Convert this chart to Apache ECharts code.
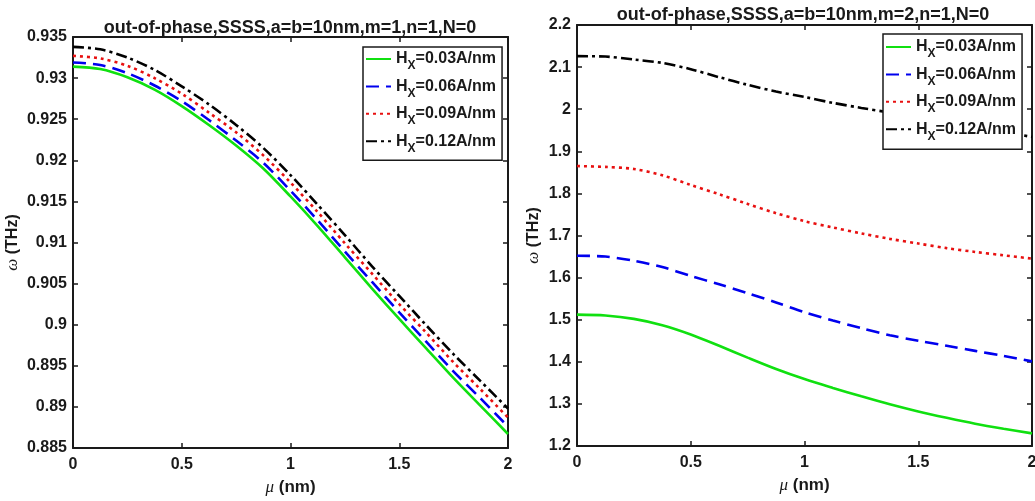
<!DOCTYPE html>
<html><head><meta charset="utf-8">
<script src="https://cdn.jsdelivr.net/npm/echarts@6/dist/echarts.min.js"></script>
<style>html,body{margin:0;padding:0;background:#fff}#c{width:1035px;height:501px}</style>
</head><body><div id="c"></div>
<script>
// ---- data ----
const mu = [0, 0.125, 0.25, 0.375, 0.5, 0.625, 0.75, 0.875, 1, 1.125, 1.25, 1.375, 1.5, 1.625, 1.75, 1.875, 2];
const hxNames = ['0.03', '0.06', '0.09', '0.12'];
const titleLeft = 'out-of-phase,SSSS,a=b=10nm,m=1,n=1,N=0';
const titleRight = 'out-of-phase,SSSS,a=b=10nm,m=2,n=1,N=0';
const xTicks = [0, 0.5, 1, 1.5, 2];
const yTicksLeft = [0.885, 0.89, 0.895, 0.9, 0.905, 0.91, 0.915, 0.92, 0.925, 0.93, 0.935];
const yTicksRight = [1.2, 1.3, 1.4, 1.5, 1.6, 1.7, 1.8, 1.9, 2, 2.1, 2.2];

// left panel (m=1)
const leftHx003 = [0.9314, 0.9311, 0.9301, 0.9286, 0.9266, 0.9243, 0.9218, 0.9190, 0.9156, 0.9120, 0.9082, 0.9044, 0.9007, 0.8971, 0.8935, 0.8901, 0.8867];
const leftHx006 = [0.9319, 0.9316, 0.9306, 0.9291, 0.9272, 0.9249, 0.9224, 0.9197, 0.9163, 0.9127, 0.9089, 0.9052, 0.9015, 0.8979, 0.8943, 0.8910, 0.8876];
const leftHx009 = [0.9327, 0.9324, 0.9315, 0.9300, 0.9281, 0.9258, 0.9234, 0.9206, 0.9173, 0.9137, 0.9099, 0.9062, 0.9025, 0.8990, 0.8954, 0.8921, 0.8887];
const leftHx012 = [0.9338, 0.9335, 0.9325, 0.9310, 0.9290, 0.9268, 0.9243, 0.9215, 0.9182, 0.9146, 0.9109, 0.9071, 0.9035, 0.8999, 0.8964, 0.8931, 0.8898];
// right panel (m=2)
const rightHx003 = [1.512, 1.510, 1.502, 1.487, 1.465, 1.438, 1.410, 1.383, 1.359, 1.338, 1.318, 1.299, 1.282, 1.267, 1.253, 1.241, 1.230];
const rightHx006 = [1.652, 1.650, 1.640, 1.625, 1.604, 1.584, 1.563, 1.541, 1.518, 1.498, 1.480, 1.463, 1.450, 1.438, 1.426, 1.414, 1.401];
const rightHx009 = [1.865, 1.863, 1.858, 1.843, 1.820, 1.798, 1.775, 1.753, 1.734, 1.719, 1.705, 1.692, 1.681, 1.670, 1.661, 1.653, 1.645];
const rightHx012 = [2.126, 2.125, 2.118, 2.110, 2.095, 2.076, 2.058, 2.042, 2.029, 2.015, 2.003, 1.992, 1.980, 1.969, 1.957, 1.946, 1.934];

// ---- styles ----
const FONT = '"Liberation Sans", Arial, sans-serif';
const INK = '#1a1a1a';
const styles = [
  {color: '#10e010', type: 'solid'},
  {color: '#0000ee', type: [13, 7]},
  {color: '#e81010', type: [3, 4]},
  {color: '#000000', type: [11, 4, 3, 4]}
];
const pair = arr => mu.map((m, i) => [m, arr[i]]);
const fmt = v => String(+(+v).toFixed(4));

function xAx(grid, pos, show) {
  return {
    type: 'value', gridIndex: grid, position: pos,
    min: xTicks[0], max: xTicks[xTicks.length - 1], interval: xTicks[1] - xTicks[0],
    axisLine: {show: true, onZero: false, lineStyle: {color: INK, width: 2}},
    axisTick: {show: true, inside: true, length: 5, lineStyle: {color: INK, width: 1.5}},
    axisLabel: {show: show, margin: 9, color: INK, fontFamily: FONT, fontWeight: 'bold', fontSize: 16, formatter: fmt},
    splitLine: {show: false},
    name: show ? '{g|\u03bc} (nm)' : '', nameLocation: 'middle', nameGap: 31,
    nameTextStyle: {color: INK, fontFamily: FONT, fontWeight: 'bold', fontSize: 17,
      rich: {g: {fontFamily: '"Liberation Serif", serif', fontStyle: 'italic', fontWeight: 'normal', fontSize: 17, color: INK}}}
  };
}
function yAx(grid, pos, show, ticks, gap) {
  return {
    type: 'value', gridIndex: grid, position: pos,
    min: ticks[0], max: ticks[ticks.length - 1], interval: +(ticks[1] - ticks[0]).toFixed(6),
    axisLine: {show: true, onZero: false, lineStyle: {color: INK, width: 2}},
    axisTick: {show: true, inside: true, length: 5, lineStyle: {color: INK, width: 1.5}},
    axisLabel: {show: show, margin: 6, color: INK, fontFamily: FONT, fontWeight: 'bold', fontSize: 16, formatter: fmt},
    splitLine: {show: false},
    name: show ? '{g|\u03c9} (THz)' : '', nameLocation: 'middle', nameGap: gap, nameRotate: 90,
    nameTextStyle: {color: INK, fontFamily: FONT, fontWeight: 'bold', fontSize: 16,
      rich: {g: {fontFamily: '"Liberation Serif", serif', fontStyle: 'italic', fontWeight: 'normal', fontSize: 17, color: INK}}}
  };
}
function legendAt(left, top, pad) {
  return {
    orient: 'vertical', left: left, top: top, data: hxNames, selectedMode: false, z: 10,
    itemWidth: 25, itemHeight: 12, itemGap: 6.4,
    padding: pad, borderColor: INK, borderWidth: 1.5, backgroundColor: '#fff',
    itemStyle: {opacity: 0},
    formatter: n => '{h|H}{s|X}{h|=' + n + 'A/nm}',
    textStyle: {
      rich: {
        h: {fontFamily: FONT, fontWeight: 'bold', fontSize: 16, lineHeight: 26, color: INK},
        s: {fontFamily: FONT, fontWeight: 'bold', fontSize: 12, verticalAlign: 'bottom', color: INK}
      }
    }
  };
}
function mk(name, idx, arr, axisIdx) {
  return {
    type: 'line', name: name, xAxisIndex: axisIdx, yAxisIndex: axisIdx,
    data: pair(arr), smooth: 0.3, symbol: 'none', clip: true,
    lineStyle: {color: styles[idx].color, width: 2.6, type: styles[idx].type, cap: 'butt'},
    itemStyle: {color: styles[idx].color}, z: 2
  };
}

const chart = echarts.init(document.getElementById('c'), null, {renderer: 'canvas'});
chart.setOption({
  backgroundColor: '#fff',
  animation: false,
  title: [
    {text: titleLeft, left: 285, top: 14, textAlign: 'center',
      textStyle: {fontFamily: FONT, fontWeight: 'bold', fontSize: 18, color: INK}},
    {text: titleRight, left: 798, top: 1, textAlign: 'center',
      textStyle: {fontFamily: FONT, fontWeight: 'bold', fontSize: 18, color: INK}}
  ],
  grid: [
    {left: 73, top: 37, width: 435, height: 411, containLabel: false, outerBoundsMode: 'none'},
    {left: 577, top: 25, width: 455, height: 421, containLabel: false, outerBoundsMode: 'none'}
  ],
  xAxis: [xAx(0, 'bottom', true), xAx(0, 'top', false), xAx(1, 'bottom', true), xAx(1, 'top', false)],
  yAxis: [yAx(0, 'left', true, yTicksLeft, 52), yAx(0, 'right', false, yTicksLeft, 0),
          yAx(1, 'left', true, yTicksRight, 35), yAx(1, 'right', false, yTicksRight, 0)],
  legend: [legendAt(363, 47, [4, 6, 6, 2]), legendAt(883, 34, [5, 6, 7, 2])],
  series: [
    mk(hxNames[0], 0, leftHx003, 0), mk(hxNames[1], 1, leftHx006, 0),
    mk(hxNames[2], 2, leftHx009, 0), mk(hxNames[3], 3, leftHx012, 0),
    mk(hxNames[0], 0, rightHx003, 2), mk(hxNames[1], 1, rightHx006, 2),
    mk(hxNames[2], 2, rightHx009, 2), mk(hxNames[3], 3, rightHx012, 2)
  ]
});
</script></body></html>
